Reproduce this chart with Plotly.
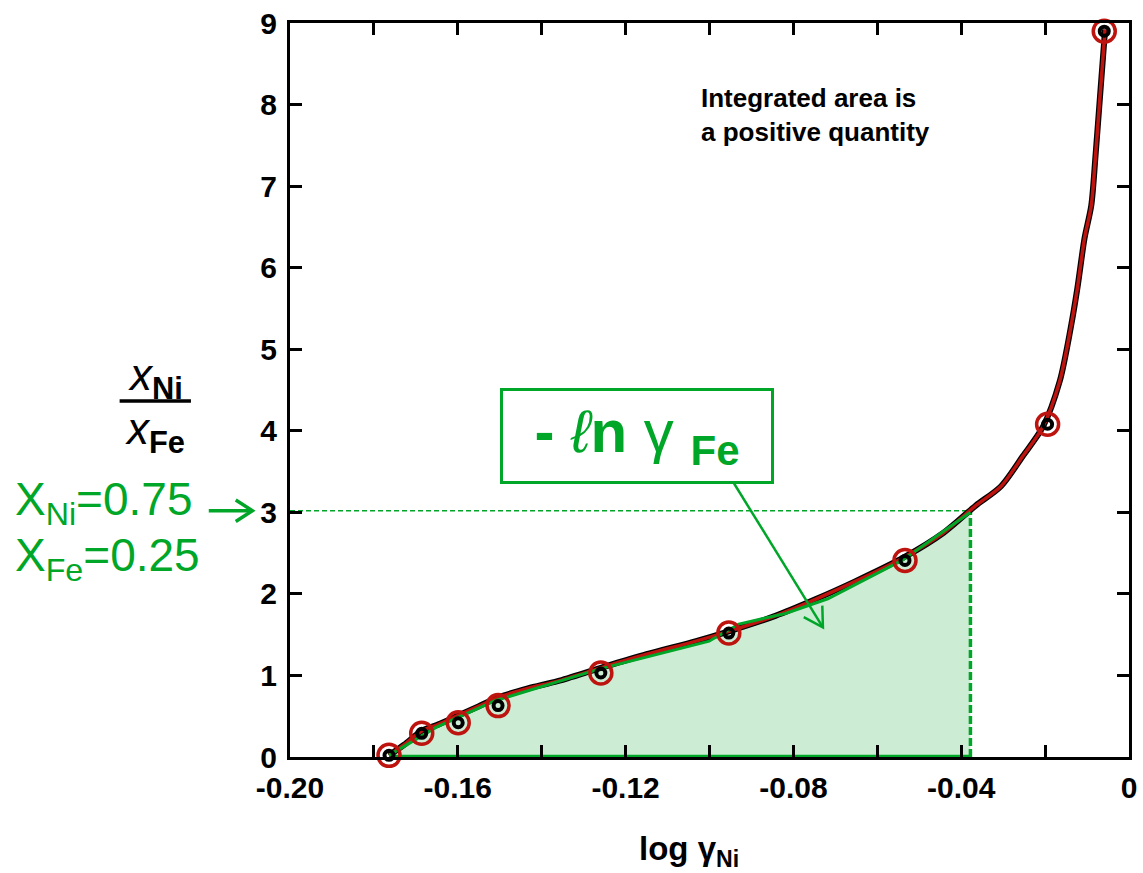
import math
import plotly.graph_objects as go

# ---- data ----
curve_x = [-0.1764, -0.1728, -0.1686, -0.1646, -0.1599, -0.1551, -0.1504, -0.1433, -0.1362,
           -0.1261, -0.1150, -0.1032, -0.0954, -0.0843, -0.0749, -0.0654, -0.0536, -0.0442,
           -0.0366, -0.0305, -0.0253, -0.0205, -0.0165, -0.0139, -0.0123, -0.0106, -0.0090,
           -0.0080, -0.0071, -0.0057]
curve_y = [0.02, 0.15, 0.32, 0.40, 0.51, 0.62, 0.73, 0.84, 0.93,
           1.09, 1.26, 1.42, 1.54, 1.73, 1.93, 2.15, 2.45, 2.75,
           3.08, 3.32, 3.69, 4.05, 4.61, 5.26, 5.75, 6.36, 6.76,
           7.36, 7.97, 8.92]

pts_x = [-0.1764, -0.1686, -0.1599, -0.1504, -0.1259, -0.0954, -0.0534, -0.0194, -0.0059]
pts_y = [0.02, 0.29, 0.42, 0.63, 1.03, 1.52, 2.41, 4.08, 8.90]

green_x = [-0.1764, -0.1653, -0.1511, -0.1261, -0.1001, -0.0930, -0.0819, -0.0718, -0.0541, -0.0378]
green_y = [0.02, 0.36, 0.69, 1.08, 1.42, 1.63, 1.76, 1.94, 2.41, 3.00]

x_at_075 = -0.0378   # log gamma_Ni at X_Ni = 0.75
ratio_at_075 = 3.02  # X_Ni / X_Fe

x_major = [-0.20, -0.16, -0.12, -0.08, -0.04, 0.0]
x_major_text = ["-0.20", "-0.16", "-0.12", "-0.08", "-0.04", "0"]
x_minor = [-0.18, -0.14, -0.10, -0.06, -0.02]
y_ticks = list(range(0, 10))

GREEN = "rgb(0,166,40)"
FILL = "rgba(205,236,212,1)"
RED = "rgb(190,20,15)"
FONT = "Liberation Sans"

W, H = 1143, 873
ML, MR, MT, MB = 290, 6, 15, 116
PW, PH = W - ML - MR, H - MT - MB


def px(xp):
    return (xp - ML) / PW


def py(yp):
    return 1 - (yp - MT) / PH


def vhead(tail, tip, length, half_angle_deg):
    """open V arrowhead path (paper coords) from pixel positions"""
    dx, dy = tip[0] - tail[0], tip[1] - tail[1]
    ang = math.atan2(dy, dx)
    pts = []
    for s in (1, -1):
        a = ang + math.pi + s * math.radians(half_angle_deg)
        pts.append((tip[0] + length * math.cos(a), tip[1] + length * math.sin(a)))
    return "M {} {} L {} {} L {} {}".format(px(pts[0][0]), py(pts[0][1]),
                                             px(tip[0]), py(tip[1]),
                                             px(pts[1][0]), py(pts[1][1]))


fig = go.Figure()

# green filled area under the curve
fig.add_trace(go.Scatter(
    x=[green_x[0]] + green_x + [green_x[-1], green_x[0]],
    y=[0] + green_y + [0, 0],
    mode="lines", fill="toself", fillcolor=FILL, line=dict(width=0),
    hoverinfo="skip", showlegend=False))

# bottom green line
fig.add_trace(go.Scatter(x=[green_x[0], green_x[-1]], y=[0.01, 0.01], mode="lines",
                         line=dict(color=GREEN, width=3), showlegend=False, cliponaxis=False))
# vertical dashed line
fig.add_trace(go.Scatter(x=[x_at_075, x_at_075], y=[0, ratio_at_075], mode="lines",
                         line=dict(color=GREEN, width=3.5, dash="8px,3px"), showlegend=False))
# horizontal dashed line
fig.add_trace(go.Scatter(x=[-0.20, x_at_075], y=[ratio_at_075, ratio_at_075], mode="lines",
                         line=dict(color=GREEN, width=1.5, dash="5px,3px"), showlegend=False))

# black curve
fig.add_trace(go.Scatter(x=curve_x, y=curve_y, mode="lines",
                         line=dict(color="black", width=6, shape="spline", smoothing=0.8),
                         showlegend=False, cliponaxis=False))
# red curve
fig.add_trace(go.Scatter(x=curve_x, y=curve_y, mode="lines",
                         line=dict(color=RED, width=3.5, shape="spline", smoothing=0.8),
                         showlegend=False, cliponaxis=False))
# green curve
fig.add_trace(go.Scatter(x=green_x, y=green_y, mode="lines", line=dict(color=GREEN, width=3),
                         showlegend=False))
# black data points
fig.add_trace(go.Scatter(x=pts_x, y=pts_y, mode="markers",
                         marker=dict(symbol="circle-open", size=9, color="black", line=dict(width=4)),
                         showlegend=False, cliponaxis=False))
# red circles
fig.add_trace(go.Scatter(x=pts_x, y=pts_y, mode="markers",
                         marker=dict(symbol="circle-open", size=22, color=RED, line=dict(width=3.5)),
                         showlegend=False, cliponaxis=False))

axis_common = dict(showline=True, linecolor="black", linewidth=3, mirror="ticks",
                   ticks="inside", ticklen=12, tickwidth=3, tickcolor="black",
                   showgrid=False, zeroline=False, ticklabeloverflow="allow",
                   tickfont=dict(family=FONT, size=30, color="black", weight="bold"))

fig.update_xaxes(range=[-0.20, 0.0], tickvals=x_major, ticktext=x_major_text,
                 minor=dict(tickvals=x_minor, ticks="inside", ticklen=12, tickwidth=3, tickcolor="black"),
                 ticklabelstandoff=2, **axis_common)
fig.update_yaxes(range=[0, 9], tickvals=y_ticks, ticklabelstandoff=4, **axis_common)

annotations = []
# x-axis title
annotations.append(dict(xref="paper", yref="paper", x=px(693), y=py(852), xanchor="center",
                        yanchor="middle", text="<b>log γ<sub>Ni</sub></b>",
                        showarrow=False, font=dict(family=FONT, size=33, color="black")))
# y-axis fraction title
annotations.append(dict(xref="paper", yref="paper", x=px(154), y=py(374), xanchor="center",
                        yanchor="middle", text="<i>x</i><sub><b>Ni</b></sub>", showarrow=False,
                        font=dict(family=FONT, size=44, color="black")))
annotations.append(dict(xref="paper", yref="paper", x=px(154), y=py(428), xanchor="center",
                        yanchor="middle", text="<i>x</i><sub><b>Fe</b></sub>", showarrow=False,
                        font=dict(family=FONT, size=44, color="black")))
# note
annotations.append(dict(xref="paper", yref="paper", x=px(703), y=py(108), xanchor="left",
                        yanchor="middle", align="left",
                        text="<b>Integrated area is<br>a positive quantity</b>", showarrow=False,
                        font=dict(family=FONT, size=26, color="black")))
# green composition labels
annotations.append(dict(xref="paper", yref="paper", x=px(10), y=py(500), xanchor="left",
                        yanchor="middle", text="X<sub>Ni</sub>=0.75", showarrow=False,
                        font=dict(family=FONT, size=46, color=GREEN)))
annotations.append(dict(xref="paper", yref="paper", x=px(10), y=py(556), xanchor="left",
                        yanchor="middle", text="X<sub>Fe</sub>=0.25", showarrow=False,
                        font=dict(family=FONT, size=46, color=GREEN)))
# boxed label
annotations.append(dict(xref="paper", yref="paper", x=px(640), y=py(432), xanchor="center",
                        yanchor="middle",
                        text="<b>-</b> <i>ℓ</i><b>n</b> γ <b><sub>Fe</sub></b>", showarrow=False,
                        font=dict(family=FONT, size=60, color=GREEN),
                        bordercolor=GREEN, borderwidth=3, bgcolor="white",
                        width=266, height=88, borderpad=1))

shapes = [
    # fraction bar
    dict(type="line", xref="paper", yref="paper", x0=px(118), x1=px(190),
         y0=py(397), y1=py(397), line=dict(color="black", width=3.5)),
    # arrow to the axis
    dict(type="line", xref="paper", yref="paper", x0=px(208), x1=px(251),
         y0=py(508), y1=py(508), line=dict(color=GREEN, width=3.5)),
    dict(type="path", xref="paper", yref="paper", path=vhead((208, 508), (252, 508), 20, 33),
         line=dict(color=GREEN, width=3.5)),
    # arrow from box into the area
    dict(type="line", xref="paper", yref="paper", x0=px(738), x1=px(828),
         y0=py(480), y1=py(626), line=dict(color=GREEN, width=2.5)),
    dict(type="path", xref="paper", yref="paper", path=vhead((738, 480), (828, 626), 22, 30),
         line=dict(color=GREEN, width=2.5)),
]

fig.update_layout(width=W, height=H, margin=dict(l=ML, r=MR, t=MT, b=MB),
                  plot_bgcolor="white", paper_bgcolor="white",
                  annotations=annotations, shapes=shapes,
                  font=dict(family=FONT, color="black"))

fig.write_html("out.html", config={"displayModeBar": False},
               post_script="document.body.style.margin='0px';document.body.style.overflow='hidden';")
